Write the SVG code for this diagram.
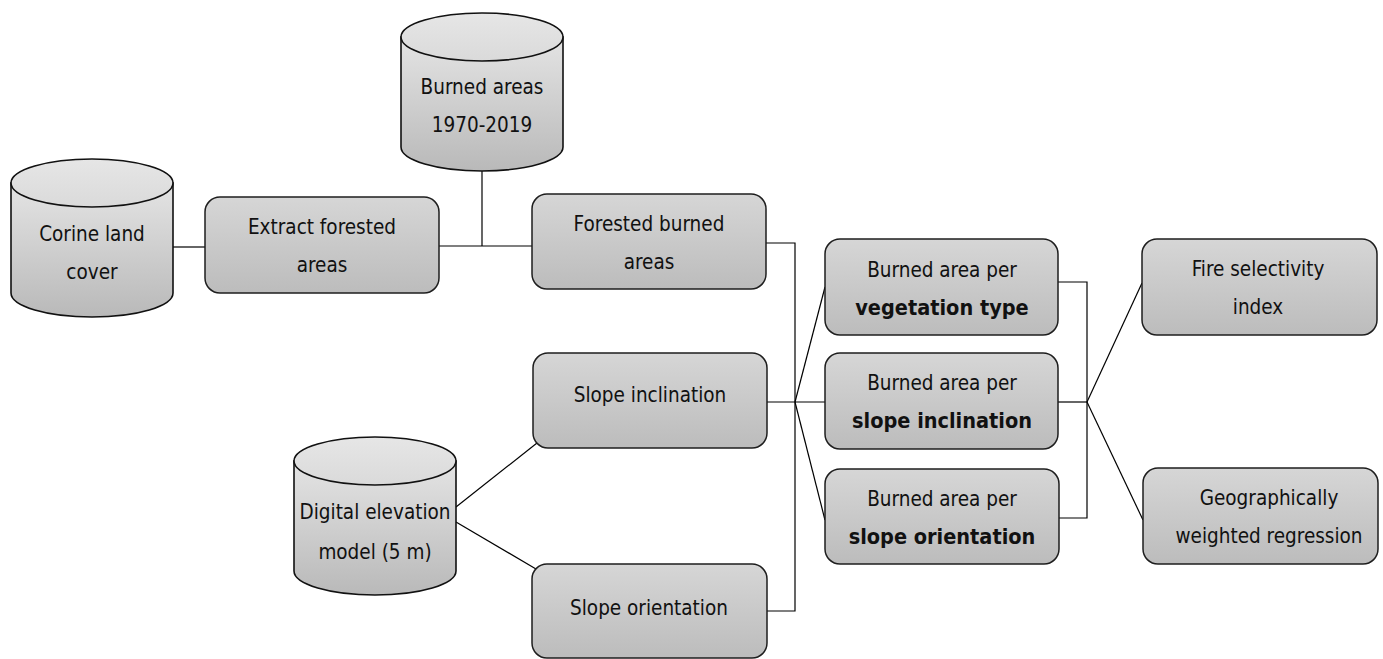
<svg xmlns="http://www.w3.org/2000/svg" width="1383" height="659" viewBox="0 0 1383 659">
<defs>
<linearGradient id="gBox" x1="0" y1="0" x2="0" y2="1">
<stop offset="0" stop-color="#d6d6d6"/>
<stop offset="1" stop-color="#bcbcbc"/>
</linearGradient>
<linearGradient id="gCyl" x1="0" y1="0" x2="0" y2="1">
<stop offset="0" stop-color="#e4e4e4"/>
<stop offset="1" stop-color="#b9b9b9"/>
</linearGradient>
<linearGradient id="gTop" x1="0" y1="0" x2="0" y2="1">
<stop offset="0" stop-color="#e6e6e6"/>
<stop offset="1" stop-color="#dadada"/>
</linearGradient>
</defs>
<style>
.box{fill:url(#gBox);stroke:#1e1e1e;stroke-width:1.5}
.cyl{fill:url(#gCyl);stroke:#111;stroke-width:1.6}
.cyltop{fill:url(#gTop);stroke:#111;stroke-width:1.6}
.t{font-family:'DejaVu Sans Condensed','DejaVu Sans',sans-serif;font-stretch:condensed;font-size:20.5px;fill:#111;text-anchor:middle}
.b{font-weight:bold;font-size:21.5px}
.c{fill:none;stroke:#000;stroke-width:1.2}
</style>
<g id="connectors">
<path class="c" d="M173,247 H205"/>
<path class="c" d="M439,246 H532"/>
<path class="c" d="M482,171 V246"/>
<path class="c" d="M766,243 H795 V611 H767"/>
<path class="c" d="M767,402 H825"/>
<path class="c" d="M795,402 L825,287"/>
<path class="c" d="M795,402 L825,520"/>
<path class="c" d="M1058,282 H1087 V518 H1059"/>
<path class="c" d="M1058,402 H1087"/>
<path class="c" d="M1087,402 L1142,283"/>
<path class="c" d="M1087,402 L1143,520"/>
<path class="c" d="M456,507 L537,443"/>
<path class="c" d="M456,522 L536,569"/>
</g>
<g id="corine">
<path class="cyl" d="M11,183 V293 A81,24 0 0 0 173,293 V183 Z"/>
<ellipse class="cyltop" cx="92" cy="183" rx="81" ry="24"/>
<text class="t" x="92" y="241">Corine land</text>
<text class="t" x="92" y="279">cover</text>
</g>
<g id="burned">
<path class="cyl" d="M401,37 V147 A81,24 0 0 0 563,147 V37 Z"/>
<ellipse class="cyltop" cx="482" cy="37" rx="81" ry="24"/>
<text class="t" x="482" y="94">Burned areas</text>
<text class="t" x="482" y="132">1970-2019</text>
</g>
<g id="dem">
<path class="cyl" d="M294,461 V571 A81,24 0 0 0 456,571 V461 Z"/>
<ellipse class="cyltop" cx="375" cy="461" rx="81" ry="24"/>
<text class="t" x="375" y="519">Digital elevation</text>
<text class="t" x="375" y="559">model (5 m)</text>
</g>
<g id="extract">
<rect class="box" x="205" y="197" width="234" height="96" rx="15"/>
<text class="t" x="322" y="234">Extract forested</text>
<text class="t" x="322" y="272">areas</text>
</g>
<g id="forested">
<rect class="box" x="532" y="194" width="234" height="95" rx="15"/>
<text class="t" x="649" y="231">Forested burned</text>
<text class="t" x="649" y="269">areas</text>
</g>
<g id="slopeinc">
<rect class="box" x="533" y="353" width="234" height="95" rx="15"/>
<text class="t" x="650" y="402">Slope inclination</text>
</g>
<g id="slopeori">
<rect class="box" x="532" y="564" width="235" height="94" rx="15"/>
<text class="t" x="649" y="615">Slope orientation</text>
</g>
<g id="veg">
<rect class="box" x="825" y="239" width="233" height="96" rx="15"/>
<text class="t" x="942" y="277">Burned area per</text>
<text class="t b" x="942" y="315">vegetation type</text>
</g>
<g id="bsi">
<rect class="box" x="825" y="353" width="233" height="96" rx="15"/>
<text class="t" x="942" y="390">Burned area per</text>
<text class="t b" x="942" y="428">slope inclination</text>
</g>
<g id="bso">
<rect class="box" x="825" y="469" width="234" height="95" rx="15"/>
<text class="t" x="942" y="506">Burned area per</text>
<text class="t b" x="942" y="544">slope orientation</text>
</g>
<g id="fire">
<rect class="box" x="1142" y="239" width="235" height="96" rx="15"/>
<text class="t" x="1258" y="276">Fire selectivity</text>
<text class="t" x="1258" y="314">index</text>
</g>
<g id="geo">
<rect class="box" x="1143" y="468" width="235" height="96" rx="15"/>
<text class="t" x="1269" y="505">Geographically</text>
<text class="t" x="1269" y="543">weighted regression</text>
</g>
</svg>
